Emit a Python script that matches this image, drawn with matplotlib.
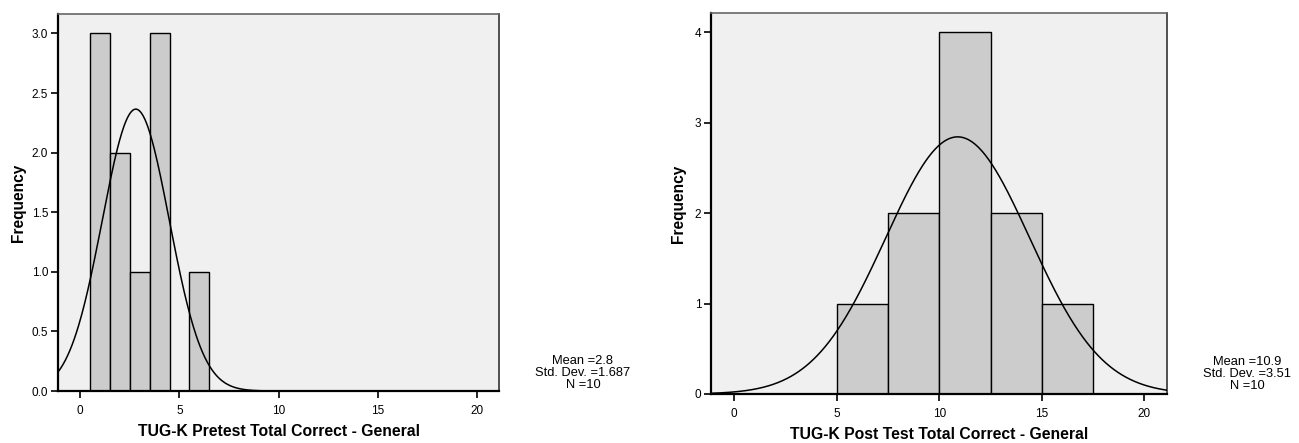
import numpy as np
import matplotlib
matplotlib.use("Agg")
import matplotlib.pyplot as plt

plt.rcParams['font.family'] = ['Liberation Sans', 'DejaVu Sans']

# Pretest histogram (bin width 1)
pre_bin_left = [0.5, 1.5, 2.5, 3.5, 5.5]
pre_counts = [3, 2, 1, 3, 1]
pre_width = 1.0
pre_mean, pre_sd, pre_n = 2.8, 1.687, 10
pre_yticks = [0.0, 0.5, 1.0, 1.5, 2.0, 2.5, 3.0]
pre_xlabel = "TUG-K Pretest Total Correct - General"

# Post test histogram (bin width 2.5)
post_bin_left = [5.0, 7.5, 10.0, 12.5, 15.0]
post_counts = [1, 2, 4, 2, 1]
post_width = 2.5
post_mean, post_sd, post_n = 10.9, 3.51, 10
post_yticks = [0, 1, 2, 3, 4]
post_xlabel = "TUG-K Post Test Total Correct - General"

xticks = [0, 5, 10, 15, 20]

fig = plt.figure(figsize=(12.99, 4.43), dpi=100)
W, H = 1299, 443


def panel(rect, lefts, counts, width, mean, sd, n, yticks, ytop, yfmt,
          xlabel, stats_xy, sd_text, ylabelpad):
    l, t, r, b = rect
    ax = fig.add_axes([l / W, 1 - b / H, (r - l) / W, (b - t) / H])
    ax.set_facecolor('#f0f0f0')
    ax.bar(lefts, counts, width=width, align='edge', color='#cccccc',
           edgecolor='black', linewidth=1.0, zorder=2)
    xs = np.linspace(-1.2, 21.2, 600)
    ys = n * width / (sd * np.sqrt(2 * np.pi)) * np.exp(-0.5 * ((xs - mean) / sd) ** 2)
    ax.plot(xs, ys, color='black', linewidth=1.1, zorder=3)
    ax.set_xlim(-1.12, 21.1)
    ax.set_ylim(0, ytop)
    ax.set_xticks(xticks)
    ax.set_yticks(yticks)
    ax.set_yticklabels([yfmt.format(v) for v in yticks])
    ax.tick_params(axis='both', direction='out', length=5, width=1.2,
                   labelsize=8.5, colors='black')
    ax.tick_params(axis='x', pad=5)
    ax.tick_params(axis='y', pad=2)
    for s in ('left', 'bottom'):
        ax.spines[s].set_linewidth(1.6)
        ax.spines[s].set_color('black')
    ax.spines['right'].set_linewidth(1.2)
    ax.spines['right'].set_color('#333333')
    ax.spines['top'].set_linewidth(1.2)
    ax.spines['top'].set_color('#666666')
    ax.set_xlabel(xlabel, fontsize=11.3, fontweight='bold', labelpad=5)
    ax.set_ylabel('Frequency', fontsize=11.2, fontweight='bold',
                  labelpad=ylabelpad)
    sx, sy = stats_xy
    fig.text(sx / W, 1 - sy / H,
             f"Mean ={mean}\nStd. Dev. ={sd_text}\nN ={n}",
             ha='center', va='center', fontsize=9.3, linespacing=0.95)
    return ax


panel((58, 14, 499, 391), pre_bin_left, pre_counts, pre_width,
      pre_mean, pre_sd, pre_n, pre_yticks, 3.163, "{:.1f}",
      pre_xlabel, (583, 373), "1.687", 4.5)
panel((711, 13, 1167, 394), post_bin_left, post_counts, post_width,
      post_mean, post_sd, post_n, post_yticks, 4.21, "{:d}",
      post_xlabel, (1247, 374), "3.51", 6)

fig.savefig("out.png", dpi=100)
